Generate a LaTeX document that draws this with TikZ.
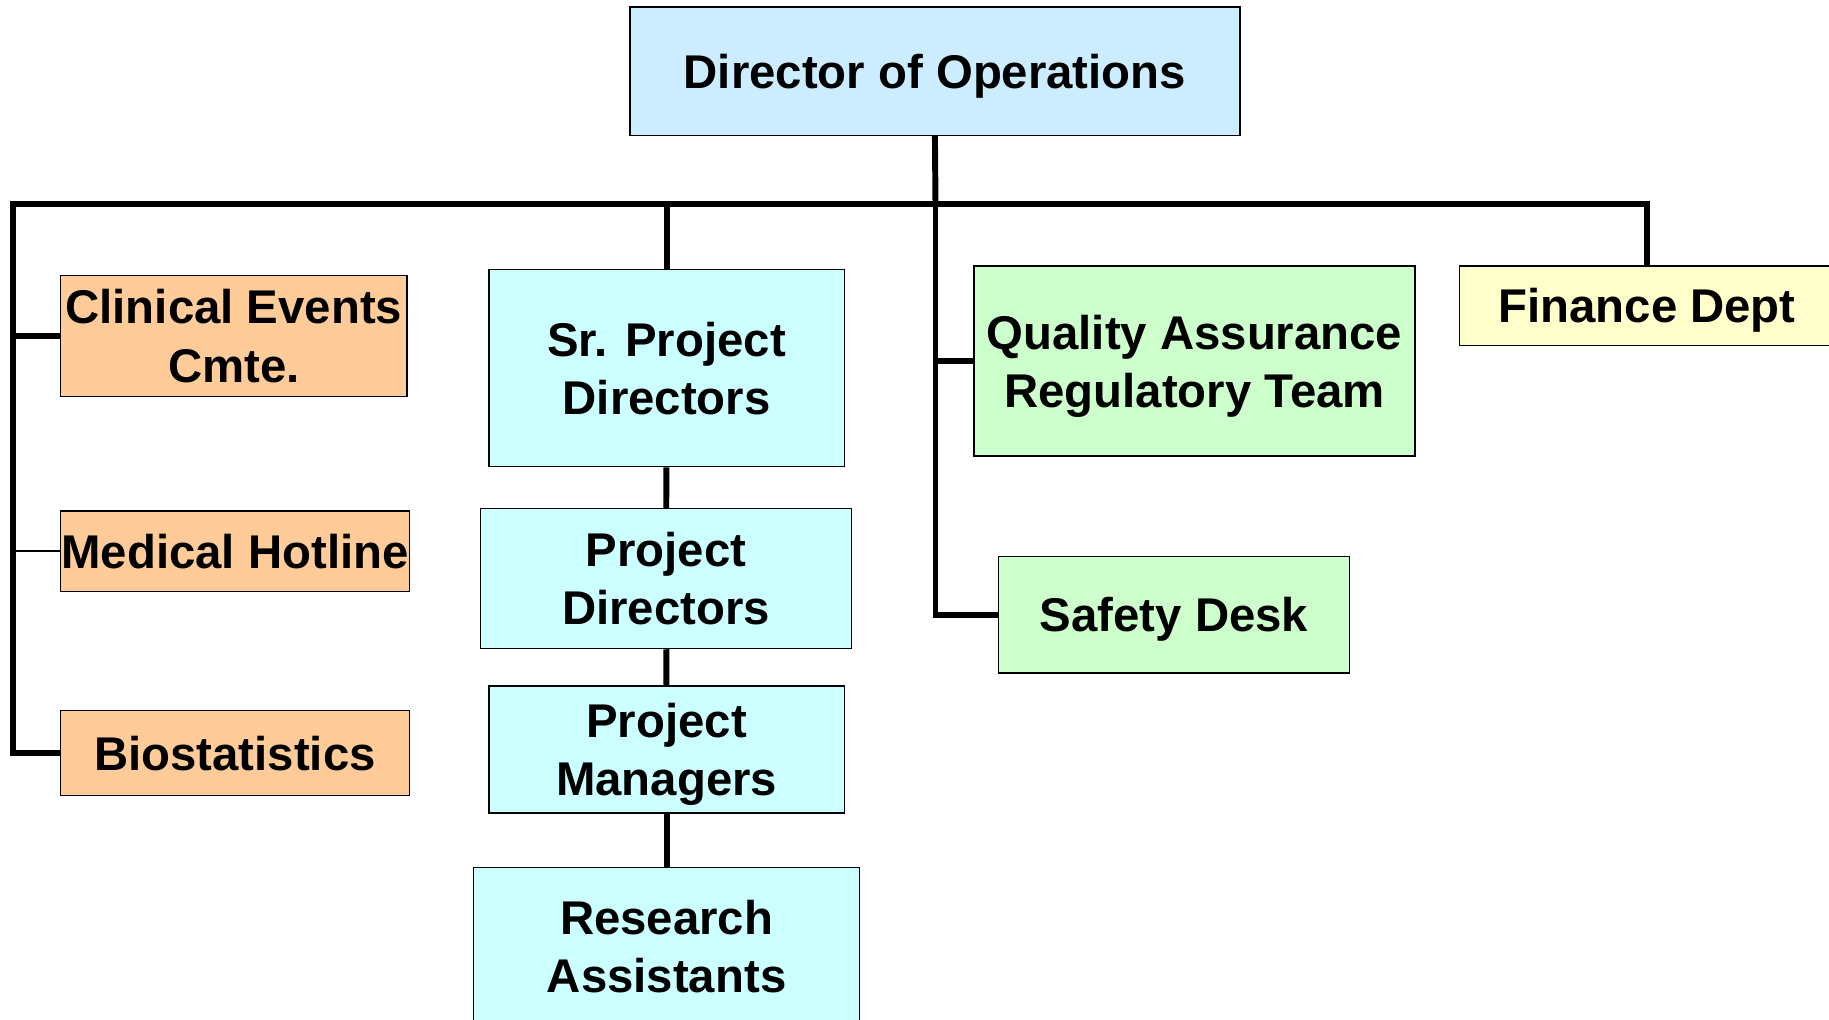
\documentclass[tikz,border=0pt]{standalone}
\usepackage{fontspec}
\setmainfont{Liberation Sans}
\definecolor{opsblue}{HTML}{CCECFF}
\definecolor{teamcyan}{HTML}{CCFFFF}
\definecolor{deptorange}{HTML}{FFCC99}
\definecolor{qagreen}{HTML}{CCFFCC}
\definecolor{finyellow}{HTML}{FFFFCC}
\begin{document}
\begin{tikzpicture}[
        x=0.02cm, y=-0.02cm,
        unit/.style={draw, line width=0.7pt, align=center, inner xsep=0pt, inner ysep=1pt,
            text depth=0pt, font=\fontsize{23.1}{28.4}\selectfont\bfseries},
        ops/.style={unit, fill=opsblue},
        team/.style={unit, fill=teamcyan},
        dept/.style={unit, fill=deptorange},
        qa/.style={unit, fill=qagreen},
        fin/.style={unit, fill=finyellow},
        tree edge/.style={draw, line width=2.9pt, black},
        thin edge/.style={draw, line width=0.9pt, black}
    ]
	\useasboundingbox (0,0) rectangle (1568,874);
	\node[ops, minimum width=10.46cm, minimum height=2.2cm] (dir_ops) at (801.5,61) {Director of Operations};
	\node[dept, minimum width=5.94cm, minimum height=2.08cm] (cec) at (200.5,288) {Clinical Events\\Cmte.};
	\node[dept, minimum width=5.98cm, minimum height=1.38cm] (hotline) at (201.5,472.5) {Medical Hotline};
	\node[dept, minimum width=5.98cm, minimum height=1.46cm] (biostat) at (201.5,645.5) {Biostatistics};
	\node[team, minimum width=6.1cm, minimum height=3.38cm] (sr_pd) at (571.5,315.5) {Sr. Project\\Directors};
	\node[team, minimum width=6.36cm, minimum height=2.4cm] (pd) at (571,496) {Project\\Directors};
	\node[team, minimum width=6.1cm, minimum height=2.18cm] (pm) at (571.5,642.5) {Project\\Managers};
	\node[team, minimum width=6.62cm, minimum height=2.7cm] (ra) at (571.5,811) {Research\\Assistants};
	\node[qa, minimum width=7.56cm, minimum height=3.26cm] (qa_team) at (1024,309.5) {Quality Assurance\\Regulatory Team};
	\node[qa, minimum width=6.02cm, minimum height=2cm] (safety) at (1006.5,527) {Safety Desk};
	\node[fin, minimum width=6.44cm, minimum height=1.36cm] (finance) at (1412,262) {Finance Dept};
	\coordinate (bus) at (802,175);
	\coordinate (bus_left) at (11,175);
	\draw[tree edge] (dir_ops.south) -- (bus);
	\draw[tree edge] (bus) -| (finance.north);
	\draw[tree edge] (bus) -| (sr_pd.north);
	\draw[tree edge] (bus) -- (bus_left) |- (biostat.west);
	\draw[tree edge] (bus_left) |- (cec.west);
	\draw[thin edge] (bus_left) |- (hotline.west);
	\draw[tree edge] (bus) |- (qa_team.west);
	\draw[tree edge] (bus) |- (safety.west);
	\draw[tree edge] (sr_pd) -- (pd);
	\draw[tree edge] (pd) -- (pm);
	\draw[tree edge] (pm) -- (ra);
\end{tikzpicture}
\end{document}
